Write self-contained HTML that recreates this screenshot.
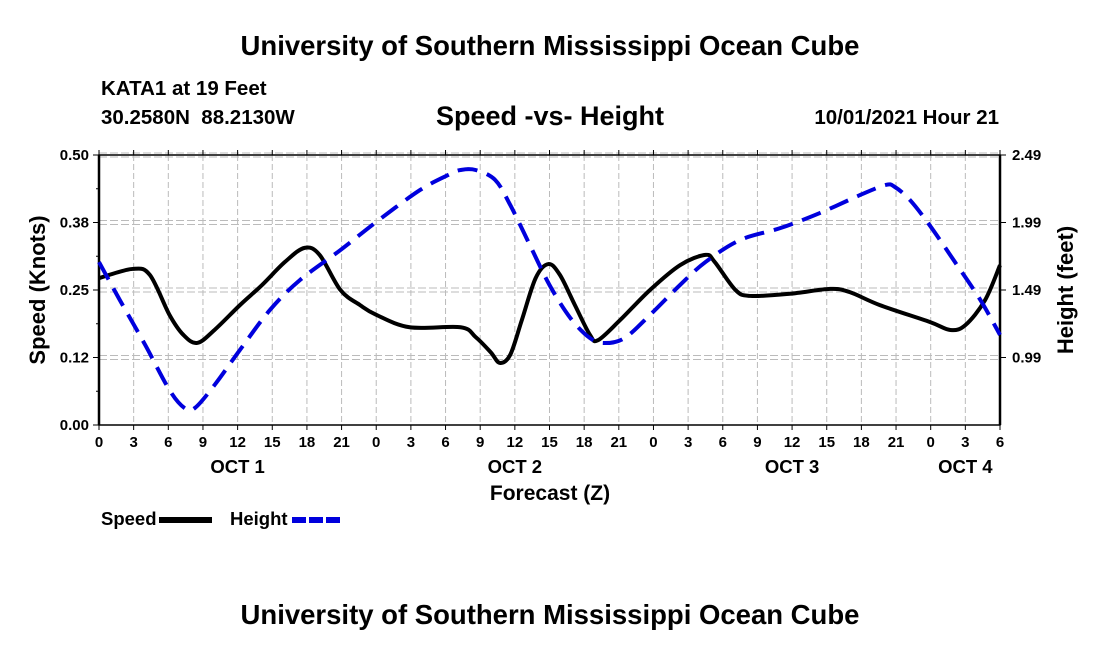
<!DOCTYPE html>
<html><head><meta charset="utf-8"><style>
body{margin:0;background:#fff;width:1100px;height:650px;overflow:hidden}
svg{font-family:"Liberation Sans",sans-serif;font-weight:bold}
</style></head><body>
<svg id="c" width="1100" height="650">
<text x="550" y="55" font-size="27.5" text-anchor="middle">University of Southern Mississippi Ocean Cube</text>
<text x="101" y="95" font-size="20.5">KATA1 at 19 Feet</text>
<text x="101" y="124" font-size="20.5" xml:space="preserve">30.2580N  88.2130W</text>
<text x="550" y="125" font-size="27" text-anchor="middle">Speed -vs- Height</text>
<text x="999" y="124" font-size="20.5" text-anchor="end">10/01/2021 Hour 21</text>
<text x="550" y="624" font-size="27.5" text-anchor="middle">University of Southern Mississippi Ocean Cube</text>
<text x="550" y="500" font-size="21" text-anchor="middle">Forecast (Z)</text>
<text transform="translate(45,290) rotate(-90)" font-size="22" text-anchor="middle">Speed (Knots)</text>
<text transform="translate(1073,290) rotate(-90)" font-size="22" text-anchor="middle">Height (feet)</text>
<g>
<text x="101" y="525" font-size="18.5">Speed</text>
<line x1="159" y1="520" x2="212" y2="520" stroke="#000" stroke-width="6"/>
<text x="230" y="525" font-size="18.5">Height</text>
<line x1="292" y1="520" x2="343" y2="520" stroke="#0000dd" stroke-width="6" stroke-dasharray="14,3"/>
</g>
<g id="grid"></g><g id="axes"></g><g id="series"></g>
</svg>
<script>
const speedHours=[0,2.9,4.4,6.1,7.3,8.5,10,12.2,14.1,16.1,17.8,19.1,20.9,22.6,24,26.9,31.3,32.6,33.9,34.7,35.6,36.6,37.8,38.9,39.9,41.2,42.5,43.2,45.1,47.7,50.3,52.5,53.3,55.1,56.4,59.8,63.3,65,67.6,71.9,73.7,75,76.7,78];
const speedValues=[0.272,0.289,0.278,0.204,0.167,0.152,0.176,0.222,0.259,0.302,0.328,0.315,0.25,0.222,0.204,0.181,0.181,0.163,0.135,0.115,0.13,0.194,0.272,0.298,0.278,0.222,0.167,0.157,0.194,0.25,0.296,0.315,0.302,0.25,0.239,0.243,0.252,0.246,0.222,0.191,0.176,0.185,0.231,0.296];
const heightHours=[0,1.8,4,6.1,7.4,8.3,10,12.2,14.8,17.4,20.9,24,27.8,30.4,31.3,32.6,34.3,35.6,37.3,39,40.8,42.5,43.8,45.5,47.7,50.3,52.5,55.5,59,62.4,65.9,68.1,68.9,70.2,71.9,74.1,76.3,78];
const heightValues=[1.697,1.416,1.083,0.749,0.616,0.616,0.786,1.046,1.342,1.564,1.786,1.994,2.231,2.349,2.379,2.379,2.305,2.12,1.823,1.527,1.283,1.134,1.097,1.134,1.305,1.527,1.697,1.86,1.949,2.06,2.194,2.268,2.253,2.157,1.971,1.697,1.416,1.157];
const leftTicks=[0,0.125,0.25,0.375,0.5];
const leftTickLabels=["0.00","0.12","0.25","0.38","0.50"];
const rightTicks=[0.99,1.49,1.99,2.49];
const rightTickLabels=["0.99","1.49","1.99","2.49"];
const hourLabels=["0","3","6","9","12","15","18","21","0","3","6","9","12","15","18","21","0","3","6","9","12","15","18","21","0","3","6"];
const dayLabels=["OCT 1","OCT 2","OCT 3","OCT 4"];
const dayLabelHours=[12,36,60,75];

const L=99,R=1000,T=155,B=425,HMAX=78;
const X=h=>L+(R-L)*h/HMAX;
const Y=v=>B-(B-T)*v/0.5;
const Y2=v=>B-(B-T)*(v-0.49)/2.0;
const NS="http://www.w3.org/2000/svg";
function mk(tag,attrs,parent,text){const e=document.createElementNS(NS,tag);for(const k in attrs)e.setAttribute(k,attrs[k]);if(text!==undefined)e.textContent=text;parent.appendChild(e);return e;}
const grid=document.getElementById('grid'),axes=document.getElementById('axes'),ser=document.getElementById('series');
hourLabels.forEach((lab,i)=>{const x=X(i*3);
 if(i>0&&i<hourLabels.length-1){const g=mk('line',{x1:x,y1:T,x2:x,y2:B,stroke:'#bbb','stroke-width':1,'stroke-dasharray':'6,3'},grid);
 
 }
 const t=mk('line',{x1:x,y1:B,x2:x,y2:B+5,stroke:'#000','stroke-width':1},axes);
 
 
 const t2=mk('line',{x1:x,y1:T,x2:x,y2:T-5,stroke:'#000','stroke-width':1},axes);
 
 
 const tx=mk('text',{x:x,y:B+22,'font-size':15,'text-anchor':'middle'},axes,lab);
 
 
});
dayLabels.forEach((d,i)=>{const tx=mk('text',{x:X(dayLabelHours[i]),y:B+48,'font-size':18.5,'text-anchor':'middle'},axes,d);
 
 });
leftTicks.forEach((v,i)=>{const y=Y(v);
 if(i>0){[-2,2].forEach(o=>{const g=mk('line',{x1:L,y1:y+o,x2:R,y2:y+o,stroke:'#bbb','stroke-width':1,'stroke-dasharray':'8,3'},grid);
 
 });}
 const t=mk('line',{x1:L-6,y1:y,x2:L,y2:y,stroke:'#000','stroke-width':1},axes);
 
 
 if(i<leftTicks.length-1){const m=mk('line',{x1:L-3,y1:Y(v+0.0625),x2:L,y2:Y(v+0.0625),stroke:'#000'},axes);
 
 }
 const tx=mk('text',{x:L-10,y:y+5,'font-size':15,'text-anchor':'end'},axes,leftTickLabels[i]);
 
 
});
rightTicks.forEach((v,i)=>{const y=Y2(v);
 const t=mk('line',{x1:R,y1:y,x2:R+6,y2:y,stroke:'#000'},axes);
 
 
 const tx=mk('text',{x:R+12,y:y+5,'font-size':15},axes,rightTickLabels[i]);
 
 
});
const frame=mk('rect',{x:L,y:T,width:R-L,height:B-T,fill:'none',stroke:'#000','stroke-width':1.5},axes);


const la=mk('line',{x1:L,y1:T,x2:L,y2:B,stroke:'#000','stroke-width':2.5},axes);


const ra=mk('line',{x1:R,y1:T,x2:R,y2:B,stroke:'#000','stroke-width':2.5},axes);


function smooth(pts){let d=`M${pts[0][0]},${pts[0][1]}`;
 for(let i=0;i<pts.length-1;i++){const p0=pts[Math.max(0,i-1)],p1=pts[i],p2=pts[i+1],p3=pts[Math.min(pts.length-1,i+2)];
 d+=` C${p1[0]+(p2[0]-p0[0])/6},${p1[1]+(p2[1]-p0[1])/6} ${p2[0]-(p3[0]-p1[0])/6},${p2[1]-(p3[1]-p1[1])/6} ${p2[0]},${p2[1]}`;}
 return d;}
const sp=mk('path',{d:smooth(speedHours.map((h,i)=>[X(h),Y(speedValues[i])])),fill:'none',stroke:'#000','stroke-width':4,'stroke-linejoin':'round'},ser);


const hp=mk('path',{d:smooth(heightHours.map((h,i)=>[X(h),Y2(heightValues[i])])),fill:'none',stroke:'#0000dd','stroke-width':4,'stroke-dasharray':'20,10'},ser);


</script>
</body></html>
